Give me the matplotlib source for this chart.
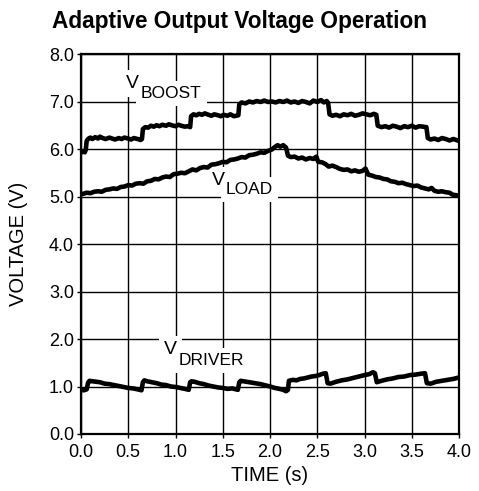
import matplotlib
matplotlib.use("Agg")
import matplotlib.pyplot as plt

plt.rcParams['font.family'] = ['Liberation Sans', 'DejaVu Sans']

# V_BOOST trace (time s, volts)
boost_t = [0.00, 0.02, 0.04, 0.05, 0.06, 0.08, 0.10, 0.12, 0.15, 0.18, 0.20, 0.23, 0.26, 0.30, 0.33,
           0.36, 0.40, 0.43, 0.46, 0.50, 0.53, 0.56, 0.60, 0.63, 0.645, 0.655, 0.68, 0.71, 0.74, 0.77,
           0.80, 0.83, 0.86, 0.90, 0.93, 0.96, 1.00, 1.03, 1.06, 1.10, 1.13, 1.155, 1.165, 1.19, 1.22,
           1.25, 1.28, 1.31, 1.35, 1.38, 1.41, 1.45, 1.48, 1.51, 1.55, 1.58, 1.62, 1.665, 1.675, 1.70,
           1.74, 1.78, 1.82, 1.86, 1.90, 1.94, 1.98, 2.02, 2.06, 2.10, 2.14, 2.18, 2.22, 2.26, 2.30,
           2.34, 2.38, 2.42, 2.46, 2.50, 2.54, 2.57, 2.60, 2.615, 2.63, 2.66, 2.70, 2.74, 2.78, 2.82,
           2.86, 2.90, 2.94, 2.98, 3.02, 3.06, 3.10, 3.125, 3.14, 3.18, 3.22, 3.26, 3.30, 3.34, 3.38,
           3.42, 3.46, 3.50, 3.54, 3.58, 3.62, 3.655, 3.67, 3.70, 3.74, 3.78, 3.82, 3.86, 3.90, 3.94,
           3.97, 4.00]
boost_v = [5.92, 5.95, 5.93, 5.98, 6.17, 6.22, 6.24, 6.21, 6.25, 6.22, 6.26, 6.23, 6.21, 6.24, 6.22,
           6.20, 6.23, 6.21, 6.24, 6.22, 6.20, 6.23, 6.21, 6.19, 6.21, 6.42, 6.46, 6.45, 6.49, 6.47,
           6.50, 6.48, 6.51, 6.49, 6.52, 6.50, 6.48, 6.51, 6.49, 6.47, 6.48, 6.46, 6.69, 6.73, 6.71,
           6.74, 6.72, 6.75, 6.72, 6.70, 6.73, 6.71, 6.69, 6.72, 6.70, 6.73, 6.69, 6.71, 6.94, 6.98,
           6.96, 7.00, 6.98, 7.01, 6.99, 7.02, 6.99, 7.00, 6.98, 7.01, 6.99, 7.02, 6.98, 7.00, 6.97,
           7.01, 6.99, 6.96, 7.02, 6.99, 7.03, 6.98, 7.01, 6.97, 6.73, 6.70, 6.72, 6.69, 6.73, 6.71,
           6.74, 6.70, 6.72, 6.75, 6.73, 6.71, 6.74, 6.72, 6.49, 6.46, 6.48, 6.45, 6.49, 6.47, 6.44,
           6.48, 6.46, 6.49, 6.45, 6.48, 6.47, 6.46, 6.23, 6.20, 6.22, 6.19, 6.23, 6.21, 6.18, 6.21,
           6.19, 6.17]

# V_LOAD trace
load_t = [0.00, 0.03, 0.06, 0.10, 0.14, 0.18, 0.22, 0.26, 0.30, 0.34, 0.38, 0.42, 0.46, 0.50, 0.54,
          0.58, 0.62, 0.66, 0.70, 0.74, 0.78, 0.82, 0.86, 0.90, 0.94, 0.98, 1.02, 1.06, 1.10, 1.14,
          1.18, 1.22, 1.26, 1.30, 1.34, 1.38, 1.42, 1.46, 1.50, 1.54, 1.58, 1.62, 1.66, 1.70, 1.74,
          1.78, 1.82, 1.86, 1.90, 1.94, 1.98, 2.02, 2.05, 2.08, 2.11, 2.14, 2.17, 2.19, 2.22, 2.26,
          2.30, 2.34, 2.38, 2.42, 2.46, 2.49, 2.51, 2.55, 2.59, 2.62, 2.66, 2.70, 2.74, 2.78, 2.82,
          2.86, 2.90, 2.94, 2.98, 3.01, 3.04, 3.08, 3.12, 3.16, 3.20, 3.24, 3.28, 3.32, 3.36, 3.40,
          3.44, 3.48, 3.52, 3.56, 3.60, 3.64, 3.68, 3.71, 3.74, 3.78, 3.82, 3.86, 3.90, 3.93, 3.96,
          4.00]
load_v = [5.05, 5.06, 5.08, 5.07, 5.10, 5.11, 5.10, 5.14, 5.15, 5.17, 5.16, 5.20, 5.21, 5.24, 5.23,
          5.27, 5.28, 5.27, 5.32, 5.33, 5.37, 5.36, 5.40, 5.42, 5.41, 5.47, 5.48, 5.50, 5.49, 5.53,
          5.57, 5.55, 5.60, 5.62, 5.61, 5.67, 5.68, 5.70, 5.73, 5.72, 5.77, 5.78, 5.80, 5.83, 5.82,
          5.87, 5.88, 5.90, 5.93, 5.92, 5.96, 5.99, 6.04, 6.08, 6.05, 6.08, 6.03, 5.86, 5.83, 5.84,
          5.80, 5.82, 5.78, 5.81, 5.79, 5.84, 5.73, 5.72, 5.68, 5.63, 5.65, 5.62, 5.58, 5.56, 5.57,
          5.53, 5.55, 5.52, 5.54, 5.59, 5.46, 5.44, 5.41, 5.40, 5.37, 5.36, 5.32, 5.31, 5.28, 5.29,
          5.26, 5.24, 5.22, 5.23, 5.19, 5.17, 5.15, 5.18, 5.12, 5.10, 5.11, 5.09, 5.08, 5.04, 5.03,
          5.02]

# V_DRIVER trace
driver_t = [0.00, 0.03, 0.06, 0.075, 0.09, 0.12, 0.16, 0.20, 0.25, 0.30, 0.35, 0.40, 0.45, 0.50,
            0.55, 0.60, 0.64, 0.655, 0.67, 0.70, 0.75, 0.80, 0.85, 0.90, 0.95, 1.00, 1.05, 1.10,
            1.14, 1.155, 1.17, 1.20, 1.25, 1.30, 1.35, 1.40, 1.45, 1.50, 1.55, 1.60, 1.66, 1.675,
            1.69, 1.72, 1.78, 1.84, 1.90, 1.96, 2.00, 2.05, 2.10, 2.14, 2.17, 2.19, 2.20, 2.24,
            2.28, 2.32, 2.36, 2.40, 2.44, 2.48, 2.52, 2.56, 2.59, 2.61, 2.64, 2.70, 2.76, 2.82,
            2.88, 2.94, 3.00, 3.05, 3.09, 3.11, 3.13, 3.18, 3.24, 3.30, 3.36, 3.42, 3.48, 3.54,
            3.60, 3.64, 3.66, 3.70, 3.76, 3.82, 3.88, 3.94, 4.00]
driver_v = [0.93, 0.92, 0.94, 1.08, 1.12, 1.11, 1.10, 1.09, 1.06, 1.05, 1.03, 1.01, 0.99, 0.97,
            0.96, 0.94, 0.92, 1.09, 1.13, 1.11, 1.09, 1.07, 1.04, 1.03, 1.00, 0.99, 0.97, 0.95,
            0.93, 1.09, 1.11, 1.10, 1.07, 1.05, 1.02, 1.00, 0.98, 0.97, 0.95, 0.96, 0.93, 1.09,
            1.12, 1.11, 1.09, 1.07, 1.05, 1.02, 1.00, 0.97, 0.95, 0.93, 0.90, 0.93, 1.12, 1.14,
            1.13, 1.16, 1.17, 1.19, 1.21, 1.22, 1.24, 1.27, 1.28, 1.07, 1.06, 1.10, 1.13, 1.15,
            1.18, 1.21, 1.24, 1.26, 1.30, 1.28, 1.09, 1.12, 1.15, 1.17, 1.20, 1.21, 1.24, 1.25,
            1.27, 1.28, 1.07, 1.06, 1.10, 1.12, 1.14, 1.16, 1.19]

x_ticks = [0.0, 0.5, 1.0, 1.5, 2.0, 2.5, 3.0, 3.5, 4.0]
y_ticks = [0.0, 1.0, 2.0, 3.0, 4.0, 5.0, 6.0, 7.0, 8.0]

fig = plt.figure(figsize=(4.79, 4.91), dpi=100)
ax = fig.add_axes([81 / 479, 1 - 434 / 491, 378 / 479, 380 / 491])

for t, v in [(boost_t, boost_v), (load_t, load_v), (driver_t, driver_v)]:
    ax.plot(t, v, color='black', lw=3.3, solid_joinstyle='round', solid_capstyle='butt',
            zorder=4, clip_on=False)

ax.set_xlim(0, 4)
ax.set_ylim(0, 8)
ax.set_xticks(x_ticks)
ax.set_yticks(y_ticks)
ax.set_xticklabels([f"{x:.1f}" for x in x_ticks])
ax.set_yticklabels([f"{y:.1f}" for y in y_ticks])
ax.tick_params(axis='both', labelsize=13, length=3, width=1, color='black')
ax.tick_params(axis='x', pad=4)
ax.tick_params(axis='y', pad=2)
ax.grid(True, color='black', lw=1.0)
ax.set_axisbelow(True)
for s in ax.spines.values():
    s.set_linewidth(1.6)

# curve labels: white boxes first (they break the grid lines), then the text
box = dict(fc='white', ec='none', pad=3.5)
labels = [("V", "BOOST", 0.47, 7.28, 0.635, 7.07),
          ("V", "LOAD", 1.385, 5.24, 1.534, 5.05),
          ("V", "DRIVER", 0.877, 1.684, 1.037, 1.453)]
for main, sub, x1, y1, x2, y2 in labels:
    for x, y, s, fs in [(x1, y1, main, 14), (x2, y2, sub, 12.5)]:
        ax.text(x, y, s, fontsize=fs, ha='left', va='baseline', color='none', bbox=box, zorder=2.5)
        ax.text(x, y, s, fontsize=fs, ha='left', va='baseline', zorder=3)

fig.text(0.5, 1 - 28 / 491, "Adaptive Output Voltage Operation", ha='center', va='baseline',
         fontsize=16.3, fontweight='bold')
fig.text(270 / 479, 1 - 481 / 491, "TIME (s)", ha='center', va='baseline', fontsize=14.5)
fig.text(19 / 479, 1 - 244 / 491, "VOLTAGE (V)", ha='center', va='center', rotation=90,
         fontsize=14.5)

fig.savefig("out.png", dpi=100)
